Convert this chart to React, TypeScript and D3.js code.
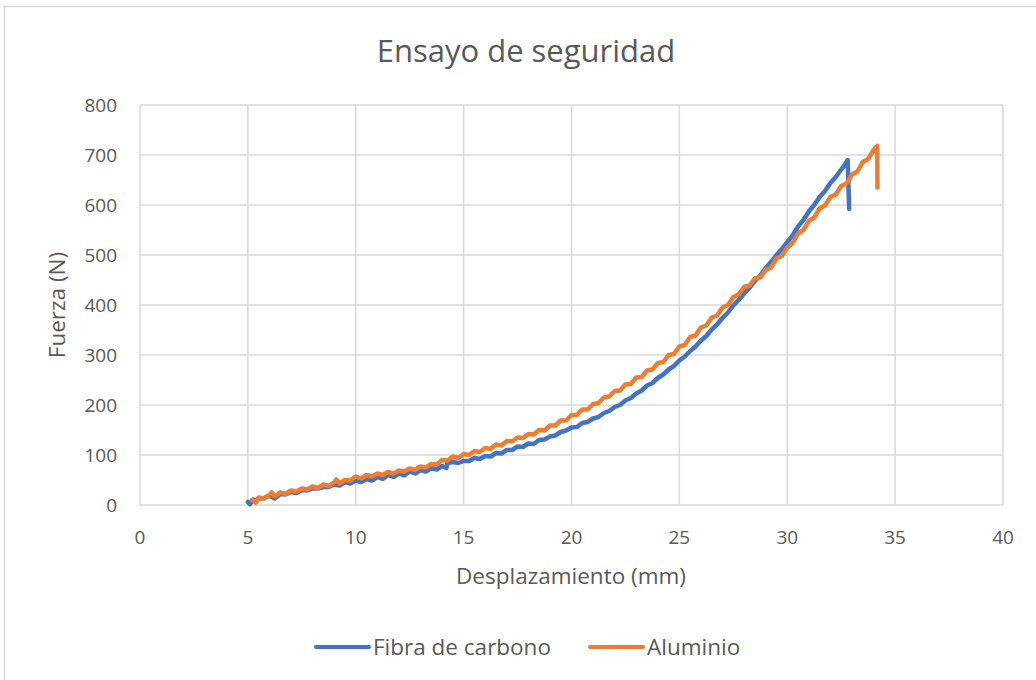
import React from "react";
import * as d3 from "d3";

// Displacement (mm) vs. force (N) readings for each specimen
const carbonFiber: [number, number][] = [
  [5.0, 6], [5.1, 2], [5.25, 11], [5.4, 7], [5.5, 13], [5.75, 14], [6.0, 19], [6.25, 13], [6.5, 22],
  [6.75, 21], [7.0, 26], [7.25, 24], [7.5, 30], [7.75, 29], [8.0, 33], [8.25, 33], [8.5, 36],
  [8.75, 36], [9.0, 41], [9.25, 39], [9.5, 46], [9.75, 43], [10.0, 49], [10.25, 46], [10.5, 52],
  [10.75, 49], [11.0, 56], [11.25, 52], [11.5, 60], [11.75, 56], [12.0, 63], [12.25, 59],
  [12.5, 67], [12.75, 63], [13.0, 70], [13.25, 67], [13.5, 74], [13.75, 71], [14.0, 78],
  [14.2, 74], [14.25, 84], [14.5, 86], [14.75, 84], [15.0, 88], [15.25, 88], [15.5, 94],
  [15.75, 92], [16.0, 98], [16.25, 97], [16.5, 104], [16.75, 103], [17.0, 110], [17.25, 110],
  [17.5, 117], [17.75, 116], [18.0, 123], [18.25, 122], [18.5, 130], [18.75, 131], [19.0, 137],
  [19.25, 139], [19.5, 146], [19.75, 149], [20.0, 155], [20.25, 156], [20.5, 164], [20.75, 166],
  [21.0, 173], [21.25, 176], [21.5, 184], [21.75, 188], [22.0, 196], [22.25, 200], [22.5, 209],
  [22.75, 214], [23.0, 223], [23.25, 229], [23.5, 239], [23.75, 244], [24.0, 254], [24.25, 261],
  [24.5, 271], [24.75, 278], [25.0, 289], [25.25, 297], [25.5, 308], [25.75, 317], [26.0, 329],
  [26.25, 338], [26.5, 351], [26.75, 361], [27.0, 374], [27.25, 385], [27.5, 399], [27.75, 410],
  [28.0, 423], [28.25, 434], [28.5, 448], [28.75, 459], [29.0, 474], [29.25, 486], [29.5, 500],
  [29.75, 512], [30.0, 526], [30.25, 539], [30.5, 557], [30.75, 570], [31.0, 587], [31.25, 600],
  [31.5, 616], [31.75, 628], [32.0, 644], [32.25, 656], [32.5, 671], [32.65, 679], [32.8, 690],
  [32.87, 592],
];

const aluminium: [number, number][] = [
  [5.2, 10], [5.35, 5], [5.5, 15], [5.75, 13], [6.0, 20], [6.1, 25], [6.25, 17], [6.5, 25],
  [6.75, 22], [7.0, 29], [7.25, 27], [7.5, 33], [7.75, 31], [8.0, 37], [8.25, 34], [8.5, 41],
  [8.75, 38], [9.0, 45], [9.1, 51], [9.25, 43], [9.5, 50], [9.75, 49], [10.0, 57], [10.25, 53],
  [10.5, 60], [10.75, 57], [11.0, 63], [11.25, 60], [11.5, 66], [11.75, 63], [12.0, 69],
  [12.25, 67], [12.5, 73], [12.75, 70], [13.0, 77], [13.25, 75], [13.5, 82], [13.75, 81],
  [14.0, 90], [14.25, 89], [14.5, 97], [14.75, 94], [15.0, 102], [15.25, 100], [15.5, 108],
  [15.75, 106], [16.0, 114], [16.25, 112], [16.5, 121], [16.75, 119], [17.0, 128], [17.25, 127],
  [17.5, 135], [17.75, 134], [18.0, 142], [18.25, 141], [18.5, 150], [18.75, 149], [19.0, 159],
  [19.25, 159], [19.5, 169], [19.75, 169], [20.0, 180], [20.25, 180], [20.5, 191], [20.75, 191],
  [21.0, 202], [21.25, 204], [21.5, 215], [21.75, 217], [22.0, 228], [22.25, 229], [22.5, 241],
  [22.75, 242], [23.0, 255], [23.25, 256], [23.5, 269], [23.75, 271], [24.0, 284], [24.25, 286],
  [24.5, 300], [24.75, 302], [25.0, 317], [25.25, 320], [25.5, 336], [25.75, 339], [26.0, 355],
  [26.25, 359], [26.5, 375], [26.75, 379], [27.0, 395], [27.25, 400], [27.5, 416], [27.75, 421],
  [28.0, 436], [28.25, 439], [28.5, 453], [28.75, 455], [29.0, 470], [29.25, 475], [29.5, 493],
  [29.75, 498], [30.0, 515], [30.25, 524], [30.5, 543], [30.75, 550], [31.0, 568], [31.25, 575],
  [31.5, 593], [31.75, 599], [32.0, 616], [32.25, 621], [32.5, 638], [32.75, 643], [33.0, 661],
  [33.25, 667], [33.5, 686], [33.75, 692], [34.0, 710], [34.17, 718], [34.18, 635],
];

const seriesNames = ["Fibra de carbono", "Aluminio"];
const seriesColors = ["#4472C4", "#ED7D31"];
const xTicks = [0, 5, 10, 15, 20, 25, 30, 35, 40];
const yTicks = [0, 100, 200, 300, 400, 500, 600, 700, 800];

const FONT = "'Open Sans', 'Noto Sans', sans-serif";
const TEXT = "#595959";
const GRID = "#d9d9d9";

export default function App() {
  const x = d3.scaleLinear().domain([0, 40]).range([140, 1003]);
  const y = d3.scaleLinear().domain([0, 800]).range([505, 105]);
  const line = d3
    .line<[number, number]>()
    .x((d) => x(d[0]))
    .y((d) => y(d[1]));
  const series = [carbonFiber, aluminium];

  const legend = [
    { lx: 316, tx: 373 },
    { lx: 590, tx: 647 },
  ];

  return (
    <svg
      width={1036}
      height={680}
      style={{ position: "absolute", left: 0, top: 0, background: "#fff" }}
      fontFamily={FONT}
    >
      <rect x={4.5} y={6.5} width={1100} height={700} fill="#fff" stroke={GRID} strokeWidth={1.5} />

      <text x={526} y={51} dy="0.35em" textAnchor="middle" fontSize={31} fill={TEXT}>
        Ensayo de seguridad
      </text>

      {yTicks.map((t) => (
        <line key={"hy" + t} x1={x(0)} x2={x(40)} y1={y(t)} y2={y(t)} stroke={GRID} strokeWidth={1.5} />
      ))}
      {xTicks.map((t) => (
        <line key={"vx" + t} x1={x(t)} x2={x(t)} y1={y(0)} y2={y(800)} stroke={GRID} strokeWidth={1.5} />
      ))}

      {yTicks.map((t) => (
        <text key={"ty" + t} x={117} y={y(t)} dy="0.35em" textAnchor="end" fontSize={19} fill={TEXT}>
          {t}
        </text>
      ))}
      {xTicks.map((t) => (
        <text key={"tx" + t} x={x(t)} y={537} dy="0.35em" textAnchor="middle" fontSize={19} fill={TEXT}>
          {t}
        </text>
      ))}

      <text x={571} y={576} dy="0.35em" textAnchor="middle" fontSize={22.5} fill={TEXT}>
        Desplazamiento (mm)
      </text>
      <text
        transform="translate(57,305) rotate(-90)"
        dy="0.35em"
        textAnchor="middle"
        fontSize={22.5}
        fill={TEXT}
      >
        Fuerza (N)
      </text>

      {series.map((s, i) => (
        <path
          key={"s" + i}
          d={line(s) ?? ""}
          fill="none"
          stroke={seriesColors[i]}
          strokeWidth={4.5}
          strokeLinejoin="round"
          strokeLinecap="round"
        />
      ))}

      {seriesNames.map((name, i) => (
        <g key={"lg" + i}>
          <line
            x1={legend[i].lx}
            x2={legend[i].lx + 53}
            y1={647}
            y2={647}
            stroke={seriesColors[i]}
            strokeWidth={4}
            strokeLinecap="round"
          />
          <text x={legend[i].tx} y={647} dy="0.35em" fontSize={22.5} fill={TEXT}>
            {name}
          </text>
        </g>
      ))}
    </svg>
  );
}
